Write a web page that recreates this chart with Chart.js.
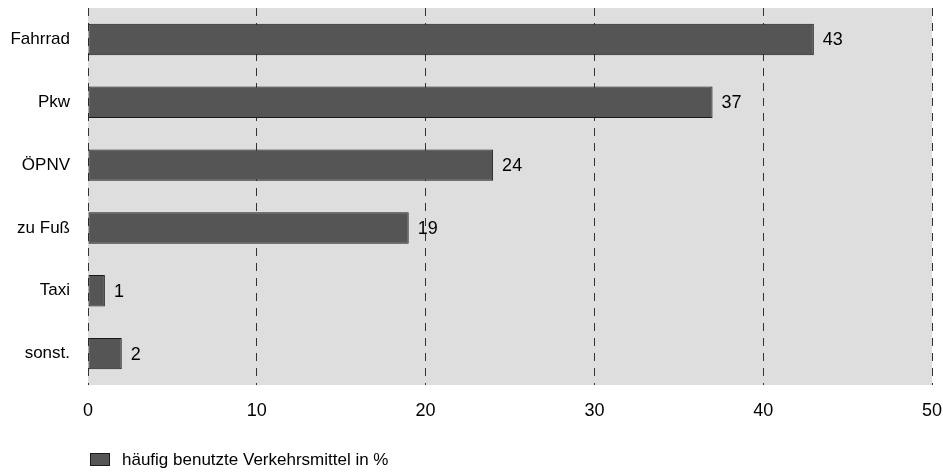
<!DOCTYPE html>
<html><head><meta charset="utf-8">
<script src="https://cdn.jsdelivr.net/npm/chart.js@4/dist/chart.umd.min.js"></script>
<style>html,body{margin:0;padding:0;background:#fff}#wrap{width:943px;height:472px}</style>
</head><body><div id="wrap"><canvas id="c"></canvas></div>
<script>
const categories = ["Fahrrad", "Pkw", "ÖPNV", "zu Fuß", "Taxi", "sonst."];
const values = [43, 37, 24, 19, 1, 2];
const seriesLabel = "häufig benutzte Verkehrsmittel in %";
const xTicks = [0, 10, 20, 30, 40, 50];
const FONT = "'Liberation Sans', Arial, sans-serif";

const bgPlugin = {
  id: 'bg',
  beforeDraw(chart) {
    const {ctx, chartArea: a} = chart;
    ctx.save(); ctx.fillStyle = '#dedede';
    ctx.fillRect(a.left, a.top, a.right - a.left, a.bottom - a.top);
    ctx.restore();
  }
};
const labelPlugin = {
  id: 'vals',
  afterDatasetsDraw(chart) {
    const {ctx} = chart;
    const meta = chart.getDatasetMeta(0);
    ctx.save();
    ctx.font = '18px ' + FONT; ctx.fillStyle = '#000';
    ctx.textBaseline = 'middle'; ctx.textAlign = 'left';
    meta.data.forEach((bar, i) => {
      ctx.fillText(String(chart.data.datasets[0].data[i]), bar.x + 9, bar.y + 1);
    });
    ctx.restore();
  }
};
const legendPlugin = {
  id: 'leg',
  afterDraw(chart) {
    const {ctx} = chart;
    const ds = chart.data.datasets[0];
    ctx.save();
    ctx.fillStyle = ds.backgroundColor; ctx.strokeStyle = '#1a1a1a'; ctx.lineWidth = 1;
    ctx.fillRect(90.5, 453.5, 19, 12); ctx.strokeRect(90.5, 453.5, 19, 12);
    ctx.font = '17px ' + FONT; ctx.fillStyle = '#000';
    ctx.textBaseline = 'middle'; ctx.textAlign = 'left';
    ctx.fillText(ds.label, 122, 460);
    ctx.restore();
  }
};

new Chart(document.getElementById('c'), {
  type: 'bar',
  data: {
    labels: categories,
    datasets: [{
      label: seriesLabel,
      data: values,
      backgroundColor: '#555555',
      borderColor: '#1a1a1a',
      borderWidth: 1,
      borderSkipped: false,
      barPercentage: 0.5,
      categoryPercentage: 1
    }]
  },
  options: {
    indexAxis: 'y',
    responsive: true,
    maintainAspectRatio: false,
    animation: false,
    layout: {padding: {top: 8, right: 11, left: 0, bottom: 0}},
    plugins: {legend: {display: false}, tooltip: {enabled: false}},
    scales: {
      x: {
        min: 0, max: 50,
        afterBuildTicks(s) { s.ticks = xTicks.map(v => ({value: v})); },
        afterFit(s) { s.height = 87; s.paddingLeft = 0; s.paddingRight = 0; s.paddingTop = 0; s.paddingBottom = 0; },
        grid: {display: true, drawTicks: false, color: '#333', lineWidth: 1},
        border: {display: false, dash: [8, 7]},
        ticks: {font: {family: FONT, size: 18}, color: '#000', padding: 15, maxRotation: 0}
      },
      y: {
        afterFit(s) { s.width = 88; s.paddingLeft = 0; s.paddingRight = 0; s.paddingTop = 0; s.paddingBottom = 0; },
        grid: {display: false, drawTicks: false},
        border: {display: false},
        ticks: {font: {family: FONT, size: 17}, color: '#000', padding: 18}
      }
    }
  },
  plugins: [bgPlugin, labelPlugin, legendPlugin]
});
</script></body></html>
